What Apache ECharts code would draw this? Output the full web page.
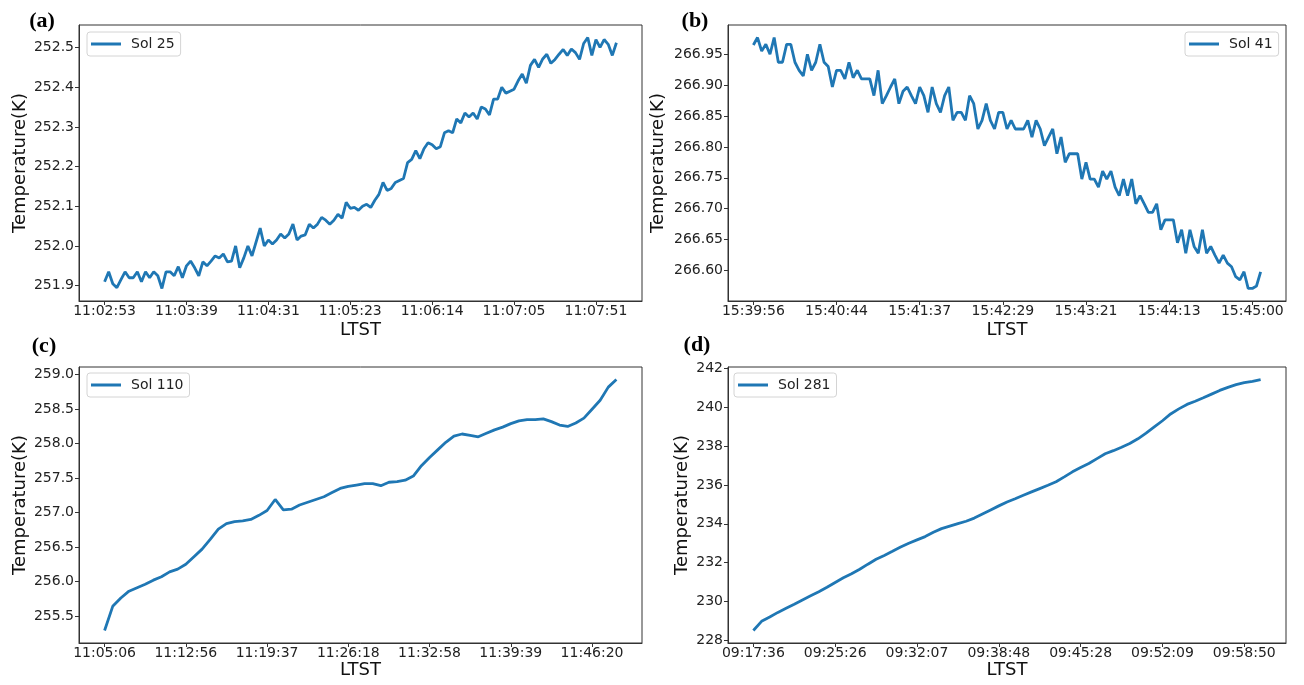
<!DOCTYPE html>
<html>
<head>
<meta charset="utf-8">
<script src="https://cdn.jsdelivr.net/npm/echarts@6/dist/echarts.min.js"></script>
<style>
  html, body { margin: 0; background: #fff; }
  #main { width: 1304px; height: 685px; }
</style>
</head>
<body>
<div id="main"></div>
<script>
// LTST tick labels (every 20 samples for a/b, every 10 for c/d)
const sol25Ticks = ['11:02:53', '11:03:39', '11:04:31', '11:05:23', '11:06:14', '11:07:05', '11:07:51'];
const sol41Ticks = ['15:39:56', '15:40:44', '15:41:37', '15:42:29', '15:43:21', '15:44:13', '15:45:00'];
const sol110Ticks = ['11:05:06', '11:12:56', '11:19:37', '11:26:18', '11:32:58', '11:39:39', '11:46:20'];
const sol281Ticks = ['09:17:36', '09:25:26', '09:32:07', '09:38:48', '09:45:28', '09:52:09', '09:58:50'];

// temperature ticks
const sol25YTicks = [251.9, 252.0, 252.1, 252.2, 252.3, 252.4, 252.5];
const sol41YTicks = [266.60, 266.65, 266.70, 266.75, 266.80, 266.85, 266.90, 266.95];
const sol110YTicks = [255.5, 256.0, 256.5, 257.0, 257.5, 258.0, 258.5, 259.0];
const sol281YTicks = [228, 230, 232, 234, 236, 238, 240, 242];

// temperature (K)
const sol25Temp = [
  251.91, 251.935, 251.905, 251.895, 251.915, 251.935, 251.92, 251.92, 251.935, 251.91,
  251.935, 251.92, 251.935, 251.925, 251.893, 251.935, 251.935, 251.925, 251.948, 251.92,
  251.95, 251.962, 251.945, 251.925, 251.96, 251.95, 251.962, 251.975, 251.97, 251.98,
  251.96, 251.962, 252.0, 251.945, 251.97, 252.0, 251.975, 252.01, 252.045, 252.0,
  252.015, 252.005, 252.015, 252.03, 252.02, 252.03, 252.055, 252.015, 252.025, 252.028,
  252.055, 252.045, 252.055, 252.072, 252.065, 252.055, 252.065, 252.08, 252.07, 252.11,
  252.095, 252.097, 252.09, 252.1, 252.105, 252.097, 252.115, 252.13, 252.16, 252.14,
  252.145, 252.16, 252.165, 252.17, 252.21, 252.218, 252.24, 252.22, 252.245, 252.26,
  252.255, 252.245, 252.25, 252.285, 252.29, 252.285, 252.32, 252.31, 252.335, 252.325,
  252.335, 252.32, 252.35, 252.345, 252.33, 252.37, 252.37, 252.40, 252.385, 252.39,
  252.395, 252.416, 252.433, 252.41, 252.455, 252.47, 252.45, 252.471, 252.483, 252.46,
  252.47, 252.483, 252.495, 252.48, 252.496, 252.487, 252.47, 252.51, 252.525, 252.48,
  252.52, 252.50, 252.52, 252.508, 252.48, 252.512
];
const sol41Temp = [
  266.965, 266.977, 266.955, 266.966, 266.95, 266.977, 266.937, 266.937, 266.966, 266.966,
  266.937, 266.924, 266.915, 266.95, 266.924, 266.937, 266.966, 266.937, 266.93, 266.897,
  266.924, 266.924, 266.91, 266.937, 266.912, 266.924, 266.91, 266.91, 266.91, 266.883,
  266.924, 266.87, 266.883, 266.897, 266.91, 266.87, 266.89, 266.897, 266.883, 266.87,
  266.897, 266.883, 266.856, 266.897, 266.87, 266.856, 266.883, 266.897, 266.843, 266.856,
  266.856, 266.843, 266.883, 266.87, 266.829, 266.843, 266.87, 266.843, 266.829, 266.856,
  266.856, 266.829, 266.843, 266.829, 266.829, 266.829, 266.843, 266.816, 266.843, 266.829,
  266.802, 266.816, 266.829, 266.789, 266.816, 266.775, 266.789, 266.789, 266.789, 266.748,
  266.775, 266.748, 266.748, 266.735, 266.761, 266.748, 266.761, 266.735, 266.721, 266.748,
  266.721, 266.748, 266.708, 266.721, 266.708, 266.694, 266.694, 266.708, 266.666, 266.682,
  266.682, 266.682, 266.645, 266.666, 266.628, 266.666, 266.639, 266.628, 266.666, 266.628,
  266.639, 266.625, 266.612, 266.625, 266.612, 266.606, 266.59, 266.585, 266.598, 266.571,
  266.571, 266.575, 266.598
];
const sol110Temp = [
  255.29, 255.64, 255.76, 255.86, 255.91, 255.96, 256.02, 256.07, 256.14, 256.18,
  256.25, 256.36, 256.47, 256.61, 256.76, 256.84, 256.87, 256.88, 256.90, 256.96,
  257.03, 257.19, 257.04, 257.05, 257.11, 257.15, 257.19, 257.23, 257.29, 257.35,
  257.38, 257.40, 257.42, 257.42, 257.39, 257.44, 257.45, 257.47, 257.53, 257.68,
  257.80, 257.91, 258.02, 258.11, 258.14, 258.12, 258.10, 258.15, 258.20, 258.24,
  258.29, 258.33, 258.35, 258.35, 258.36, 258.32, 258.27, 258.25, 258.30, 258.37,
  258.50, 258.63, 258.82, 258.93
];
const sol281Temp = [
  228.51, 228.98, 229.20, 229.44, 229.65, 229.86, 230.08, 230.29, 230.50, 230.73,
  230.98, 231.22, 231.43, 231.66, 231.92, 232.17, 232.37, 232.58, 232.80, 233.00,
  233.17, 233.34, 233.56, 233.75, 233.88, 234.01, 234.13, 234.29, 234.50, 234.71,
  234.92, 235.12, 235.29, 235.47, 235.64, 235.81, 235.98, 236.16, 236.41, 236.67,
  236.89, 237.10, 237.35, 237.60, 237.76, 237.94, 238.13, 238.37, 238.66, 238.98,
  239.30, 239.65, 239.91, 240.14, 240.30, 240.48, 240.67, 240.86, 241.02, 241.16,
  241.26, 241.33, 241.42
];

const BLUE = '#1f77b4';
const FONT = 'DejaVu Sans';
const EDGE = '#333';

const panels = [
  { name: 'Sol 25', values: sol25Temp, ticks: sol25Ticks, every: 20, yTicks: sol25YTicks, dec: 1,
    grid: { left: 79, top: 25, width: 563, height: 276 }, yGap: 50, xGap: 20,
    legend: { left: 87, top: 32 }, tag: '(a)', tagPos: [42, 21] },
  { name: 'Sol 41', values: sol41Temp, ticks: sol41Ticks, every: 20, yTicks: sol41YTicks, dec: 2,
    grid: { left: 728, top: 25, width: 558, height: 276 }, yGap: 61, xGap: 20,
    legend: { left: 1185, top: 32 }, tag: '(b)', tagPos: [695, 21] },
  { name: 'Sol 110', values: sol110Temp, ticks: sol110Ticks, every: 10, yTicks: sol110YTicks, dec: 1,
    grid: { left: 79, top: 367, width: 563, height: 276 }, yGap: 50, xGap: 18,
    legend: { left: 87, top: 373 }, tag: '(c)', tagPos: [44, 346] },
  { name: 'Sol 281', values: sol281Temp, ticks: sol281Ticks, every: 10, yTicks: sol281YTicks, dec: 0,
    grid: { left: 728, top: 367, width: 558, height: 276 }, yGap: 37, xGap: 18,
    legend: { left: 734, top: 373 }, tag: '(d)', tagPos: [697, 345] }
];

const grid = [], xAxis = [], yAxis = [], series = [], legend = [], graphic = [];

panels.forEach((p, k) => {
  const n = p.values.length - 1;
  const lo = Math.min(...p.values), hi = Math.max(...p.values);
  const pad = (hi - lo) * 0.05;   // matplotlib default margins
  const xTickVals = p.ticks.map((_, i) => i * p.every);
  grid.push(Object.assign({ show: true, borderColor: EDGE, borderWidth: 1, containLabel: false }, p.grid));
  xAxis.push({
    type: 'value', gridIndex: k, min: -n * 0.05, max: n * 1.05,
    name: 'LTST', nameLocation: 'middle', nameGap: p.xGap,
    nameTextStyle: { fontFamily: FONT, fontSize: 18, color: '#111' },
    axisLine: { show: true, onZero: false, lineStyle: { color: EDGE, width: 1 } },
    splitLine: { show: false },
    axisTick: { show: true, length: 4, lineStyle: { color: EDGE }, customValues: xTickVals },
    axisLabel: { fontFamily: FONT, fontSize: 14, color: '#222', margin: 3,
      customValues: xTickVals,
      formatter: v => p.ticks[Math.round(v / p.every)] }
  });
  yAxis.push({
    type: 'value', gridIndex: k, min: lo - pad, max: hi + pad,
    name: 'Temperature(K)', nameLocation: 'middle', nameGap: p.yGap,
    nameTextStyle: { fontFamily: FONT, fontSize: 18, color: '#111' },
    axisLine: { show: true, onZero: false, lineStyle: { color: EDGE, width: 1 } },
    splitLine: { show: false },
    axisTick: { show: true, length: 4, lineStyle: { color: EDGE }, customValues: p.yTicks },
    axisLabel: { fontFamily: FONT, fontSize: 14, color: '#222', margin: 5,
      customValues: p.yTicks, formatter: v => v.toFixed(p.dec) }
  });
  series.push({
    name: p.name, type: 'line', xAxisIndex: k, yAxisIndex: k,
    data: p.values.map((v, i) => [i, v]),
    showSymbol: false, color: BLUE,
    lineStyle: { width: 2.8, color: BLUE }
  });
  legend.push({
    data: [p.name], left: p.legend.left, top: p.legend.top,
    icon: 'rect', itemWidth: 30, itemHeight: 3,
    backgroundColor: '#fff', borderColor: '#d4d4d4', borderWidth: 1, borderRadius: 3,
    padding: [5, 6, 5, 4],
    textStyle: { fontFamily: FONT, fontSize: 14, color: '#222', padding: [0, 0, 0, 5] }
  });
  graphic.push({
    type: 'text', x: p.tagPos[0], y: p.tagPos[1],
    style: { text: p.tag, font: 'bold 22px "Liberation Serif"', fill: '#000',
      align: 'center', verticalAlign: 'middle' }
  });
});

const chart = echarts.init(document.getElementById('main'));
chart.setOption({
  animation: false,
  backgroundColor: '#fff',
  grid, xAxis, yAxis, series, legend, graphic
});
</script>
</body>
</html>
